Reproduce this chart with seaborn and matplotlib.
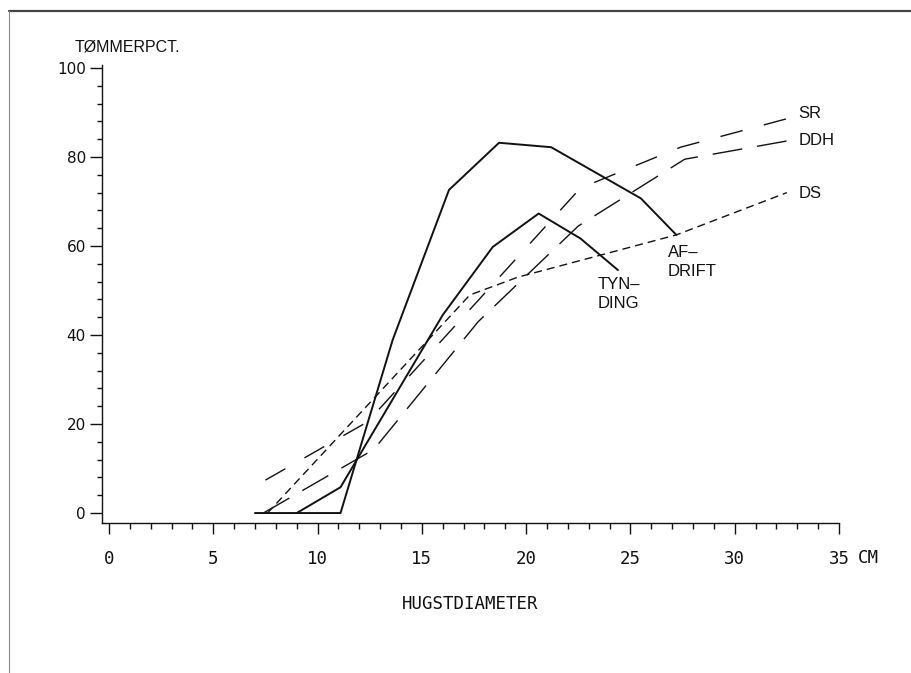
import numpy as np
import pandas as pd
import matplotlib
matplotlib.use("Agg")
import matplotlib.pyplot as plt
from matplotlib.ticker import MultipleLocator
from matplotlib.lines import Line2D
import seaborn as sns

# curves (diameter cm, timber pct)
af_x = [7.0, 11.1, 13.6, 16.3, 18.7, 21.2, 25.5, 27.2]
af_y = [0, 0, 38.9, 72.6, 83.2, 82.2, 70.7, 62.5]

tyn_x = [9.0, 11.1, 16.0, 18.4, 20.6, 22.6, 24.4]
tyn_y = [0, 5.8, 44.5, 59.8, 67.3, 61.7, 54.6]

ds_x = [7.6, 17.3, 19.6, 27.2, 32.5]
ds_y = [0, 49.0, 53.0, 62.5, 72.0]

sr_x = [7.5, 12.4, 22.6, 27.4, 32.5]
sr_y = [7.4, 20.5, 73.0, 82.2, 88.6]

ddh_x = [7.4, 12.7, 17.7, 22.5, 27.6, 32.5]
ddh_y = [0, 14.3, 43.0, 64.5, 79.5, 83.6]

x_ticks = [0, 5, 10, 15, 20, 25, 30, 35]
y_ticks = [0, 20, 40, 60, 80, 100]

sns.set_style("ticks")
plt.rcParams['font.family'] = ['DejaVu Sans']

fig = plt.figure(figsize=(9.12, 6.73), dpi=100)
ax = fig.add_axes([0.1115, 0.2224, 0.8085, 0.6812])

curves = [
    (af_x, af_y, '-', 1.4),
    (tyn_x, tyn_y, '-', 1.4),
    (ds_x, ds_y, (0, (5.8, 3.6)), 1.0),
    (sr_x, sr_y, (0, (16.5, 15.8)), 1.0),
    (ddh_x, ddh_y, (0, (21.6, 10.8)), 1.0),
]
for xs, ys, ls, lw in curves:
    df = pd.DataFrame({'d': xs, 'pct': ys})
    sns.lineplot(data=df, x='d', y='pct', ax=ax, color='#111111',
                 linestyle=ls, linewidth=lw, sort=False, estimator=None)

ax.set_xlim(-0.35, 35)
ax.set_ylim(-2.31, 100.7)
sns.despine(ax=ax)
for s in ['left', 'bottom']:
    ax.spines[s].set_linewidth(1.0)
    ax.spines[s].set_color('#111111')

ax.set_xticks(x_ticks)
ax.set_yticks(y_ticks)
ax.xaxis.set_minor_locator(MultipleLocator(1))
ax.yaxis.set_minor_locator(MultipleLocator(4))
ax.tick_params(axis='x', which='major', length=8, width=1, direction='out',
               pad=11, labelsize=12.5, labelfontfamily='DejaVu Sans Mono', colors='#111111')
ax.tick_params(axis='x', which='minor', length=4.3, width=1, direction='out', colors='#111111')
ax.tick_params(axis='y', which='major', length=8.6, width=1, direction='out',
               pad=2.7, labelsize=11, colors='#111111')
ax.tick_params(axis='y', which='minor', length=3.6, width=1, direction='out', colors='#111111')

ax.set_ylabel('')
ax.set_xlabel('HUGSTDIAMETER', fontsize=12.5, family='DejaVu Sans Mono', color='#111111')
ax.xaxis.set_label_coords(0.5, -0.175)
ax.xaxis.label.set_verticalalignment('center')

lab = dict(fontsize=12, family='Liberation Sans', color='#111111', clip_on=False)
ax.text(33.05, 89.7, 'SR', va='center', ha='left', **lab)
ax.text(33.05, 83.6, 'DDH', va='center', ha='left', **lab)
ax.text(33.05, 71.9, 'DS', va='center', ha='left', **lab)
ax.text(26.8, 56.4, 'AF–\nDRIFT', va='center', ha='left', linespacing=1.3, **lab)
ax.text(23.45, 49.2, 'TYN–\nDING', va='center', ha='left', linespacing=1.3, **lab)
ax.text(35.9, -10.1, 'CM', va='center', ha='left', fontsize=12.5,
        family='DejaVu Sans Mono', color='#111111', clip_on=False)
fig.text(75 / 912, 1 - 47 / 673, 'TØMMERPCT.', va='center', ha='left',
         fontsize=11.5, family='Liberation Sans', color='#111111')

# scan frame
fig.add_artist(Line2D([9 / 912, 1], [1 - 11 / 673, 1 - 11 / 673], color='#444444', lw=1.6))
fig.add_artist(Line2D([9 / 912, 9 / 912], [0, 1 - 11 / 673], color='#888888', lw=0.8))

fig.savefig('out.png', dpi=100)
